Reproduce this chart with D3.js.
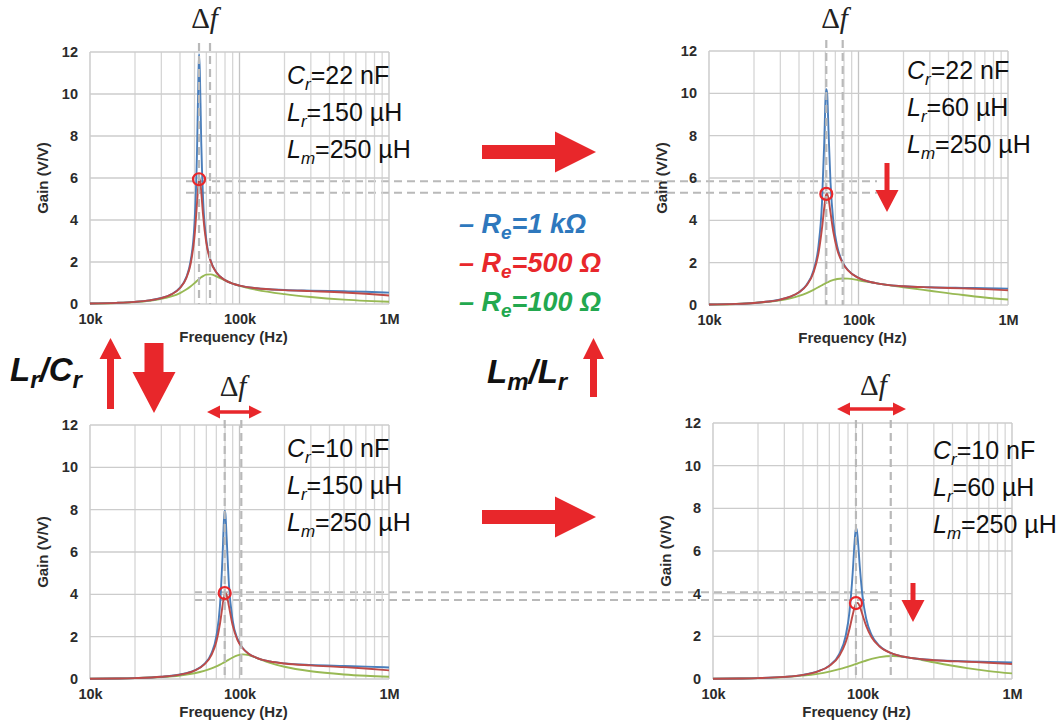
<!DOCTYPE html>
<html>
<head>
<meta charset="utf-8">
<script src="https://cdn.jsdelivr.net/npm/d3@7"></script>
<style>
  body { margin: 0; background: #ffffff; }
  svg { display: block; }
  .tick text { font-family: "Liberation Sans", Arial, sans-serif; font-weight: 700; font-size: 14.5px; fill: #2b2b2b; }
</style>
</head>
<body>
<div id="chart"></div>
<script>
/* ── DATA (gain in V/V, frequency in kHz) ───────────────────── */
const gainTicks = [0, 2, 4, 6, 8, 10, 12];
const freqTicks = [10, 100, 1000];
const freqTickLabels = ["10k", "100k", "1M"];
const legendLabels = ["1 kΩ", "500 Ω", "100 Ω"];

// Cr=22 nF, Lr=150 µH
const freq1  = [10,15,20,25,30,35,40,44,47,50,52,53,53.6,54.3,55.5,57,60,64,70,80,90,100,130,200,300,500,700,1000];
const blue1  = [0.022,0.053,0.101,0.173,0.284,0.462,0.777,1.268,2.012,3.828,7.30,10.51,11.9,11.06,7.654,5.086,3.057,2.090,1.513,1.136,0.970,0.877,0.752,0.670,0.637,0.607,0.582,0.541];
const red1   = [0.022,0.053,0.101,0.173,0.282,0.457,0.763,1.224,1.879,3.214,4.815,5.632,5.917,5.937,5.319,4.274,2.895,2.053,1.505,1.135,0.970,0.877,0.750,0.660,0.612,0.548,0.487,0.407];
const green1 = [0.022,0.051,0.095,0.157,0.243,0.361,0.521,0.687,0.834,0.995,1.103,1.154,1.183,1.218,1.270,1.326,1.397,1.409,1.318,1.120,0.969,0.862,0.673,0.470,0.332,0.207,0.150,0.105];

// Cr=22 nF, Lr=60 µH
const freq2  = [10,15,20,25,30,35,40,45,50,54,57,59,60.2,60.9,61.7,63,65,68,72,78,85,100,130,200,300,500,700,1000];
const blue2  = [0.022,0.052,0.097,0.163,0.258,0.396,0.607,0.958,1.625,2.794,4.843,7.678,9.78,10.2,10.0,8.265,5.773,3.891,2.784,2.053,1.653,1.282,1.034,0.888,0.839,0.810,0.796,0.776];
const red2   = [0.022,0.052,0.097,0.163,0.256,0.392,0.598,0.932,1.532,2.448,3.628,4.603,5.066,5.218,5.252,5.030,4.360,3.418,2.625,2.003,1.635,1.278,1.034,0.887,0.832,0.787,0.751,0.695];
const green2 = [0.022,0.050,0.092,0.148,0.222,0.315,0.429,0.565,0.717,0.843,0.935,0.993,1.025,1.044,1.063,1.094,1.135,1.185,1.230,1.255,1.246,1.172,1.031,0.839,0.673,0.470,0.355,0.257];

// Cr=10 nF, Lr=150 µH
const freq3  = [10,15,20,30,40,50,58,65,70,74,77,78.8,79.6,80.5,82,85,90,97,105,115,130,160,200,300,500,700,1000];
const blue3  = [0.010,0.023,0.042,0.103,0.211,0.405,0.700,1.221,2.021,3.455,5.786,7.60,7.95,7.80,6.695,4.449,2.769,1.894,1.464,1.198,1.000,0.830,0.740,0.664,0.617,0.587,0.543];
const red3   = [0.010,0.023,0.042,0.103,0.209,0.398,0.676,1.138,1.760,2.607,3.454,3.886,4.003,4.058,3.976,3.431,2.534,1.842,1.451,1.196,1.000,0.827,0.733,0.642,0.559,0.493,0.410];
const green3 = [0.010,0.022,0.040,0.092,0.168,0.274,0.383,0.500,0.595,0.678,0.743,0.783,0.801,0.820,0.853,0.918,1.016,1.117,1.162,1.128,1.000,0.764,0.577,0.365,0.215,0.152,0.106];

// Cr=10 nF, Lr=60 µH
const freq4  = [10,15,20,30,40,50,60,70,77,82,86,88.5,89.6,90.4,91.3,93,96,100,106,115,130,160,200,250,300,500,700,1000];
const blue4  = [0.010,0.023,0.041,0.100,0.196,0.354,0.628,1.174,1.994,3.197,4.989,6.410,6.871,7.043,7.041,6.564,5.229,3.887,2.811,2.069,1.551,1.183,1.014,0.927,0.886,0.827,0.805,0.780];
const red4   = [0.010,0.023,0.041,0.099,0.194,0.348,0.607,1.087,1.700,2.372,3.014,3.358,3.466,3.522,3.560,3.564,3.391,3.009,2.477,1.959,1.522,1.180,1.013,0.926,0.882,0.807,0.763,0.701];
const green4 = [0.010,0.022,0.039,0.089,0.157,0.243,0.346,0.460,0.544,0.605,0.653,0.682,0.695,0.704,0.715,0.734,0.767,0.809,0.868,0.942,1.026,1.075,1.013,0.893,0.783,0.507,0.370,0.262];

// dashed markers: [red peak freq, green peak freq] in kHz, and red-peak gain
const marks1 = [53.6, 63.5],  peak1 = 5.94;
const marks2 = [60.9, 78.4],  peak2 = 5.25;
const marks3 = [79.6, 102.8], peak3 = 4.06;
const marks4 = [90.4, 154.5], peak4 = 3.56;

// component values
const params1 = ["22 nF", "150 µH", "250 µH"];
const params2 = ["22 nF", "60 µH",  "250 µH"];
const params3 = ["10 nF", "150 µH", "250 µH"];
const params4 = ["10 nF", "60 µH",  "250 µH"];

/* ── SETUP ──────────────────────────────────────────────────── */
const W = 1060, H = 722;
const SANS = "'Liberation Sans', Arial, sans-serif";
const SERIF = "'Liberation Serif', 'Times New Roman', serif";
const RED = "#e8272b";
const DASH = "#b9b9b9";
const lineColors = { blue: "#4a7ebb", red: "#be4b48", green: "#98b954" };

const svg = d3.select("#chart").append("svg")
  .attr("width", W).attr("height", H)
  .attr("viewBox", `0 0 ${W} ${H}`);

// layout for each small chart
const panels = [
  { x0: 90,  x1: 389,  yTop: 52,  yBot: 304, vTop: 43,  dfY: 28,  px: 287, py: 84,
    f: freq1, blue: blue1, red: red1, green: green1, marks: marks1, peak: peak1, params: params1 },
  { x0: 709, x1: 1008, yTop: 51,  yBot: 305, vTop: 40,  dfY: 28,  px: 907, py: 79,
    f: freq2, blue: blue2, red: red2, green: green2, marks: marks2, peak: peak2, params: params2 },
  { x0: 90,  x1: 389,  yTop: 425, yBot: 679, vTop: 420, dfY: 396, px: 287, py: 457,
    f: freq3, blue: blue3, red: red3, green: green3, marks: marks3, peak: peak3, params: params3 },
  { x0: 713, x1: 1012, yTop: 423, yBot: 679, vTop: 420, dfY: 395, px: 933, py: 459,
    f: freq4, blue: blue4, red: red4, green: green4, marks: marks4, peak: peak4, params: params4 }
];
panels.forEach(p => {
  p.x = d3.scaleLog().domain([10, 1000]).range([p.x0, p.x1]);
  p.y = d3.scaleLinear().domain([0, 12]).range([p.yBot, p.yTop]);
});

/* ── HORIZONTAL GUIDE LINES (drawn under the plots) ─────────── */
const guides = svg.append("g")
  .attr("stroke", DASH).attr("stroke-width", 2).attr("stroke-dasharray", "8,5");
guides.append("line").attr("x1", 186).attr("x2", 877)
  .attr("y1", panels[0].y(5.85)).attr("y2", panels[0].y(5.85));
guides.append("line").attr("x1", 186).attr("x2", 877)
  .attr("y1", panels[1].y(5.3)).attr("y2", panels[1].y(5.3));
guides.append("line").attr("x1", 194).attr("x2", 883)
  .attr("y1", panels[2].y(4.1)).attr("y2", panels[2].y(4.1));
guides.append("line").attr("x1", 194).attr("x2", 883)
  .attr("y1", panels[3].y(3.7)).attr("y2", panels[3].y(3.7));

/* ── PANELS ─────────────────────────────────────────────────── */
panels.forEach(p => {
  const g = svg.append("g");
  const { x, y } = p;

  // grid
  g.append("g").selectAll("line").data(x.ticks()).join("line")
    .attr("x1", d => x(d)).attr("x2", d => x(d))
    .attr("y1", p.yTop).attr("y2", p.yBot)
    .attr("stroke", d => freqTicks.includes(d) ? "#c4c4c4" : "#d6d6d6")
    .attr("stroke-width", 1.3);
  g.append("g").selectAll("line").data(gainTicks).join("line")
    .attr("x1", p.x0).attr("x2", p.x1)
    .attr("y1", d => y(d)).attr("y2", d => y(d))
    .attr("stroke", "#cccccc").attr("stroke-width", 1.3);

  // axes
  g.append("g").attr("transform", `translate(${p.x0},0)`)
    .call(d3.axisLeft(y).tickValues(gainTicks).tickSize(0).tickPadding(12))
    .call(a => a.select(".domain").remove());
  g.append("g").attr("transform", `translate(0,${p.yBot})`)
    .call(d3.axisBottom(x).tickValues(freqTicks).tickSize(0).tickPadding(10)
      .tickFormat((d, i) => freqTickLabels[i]))
    .call(a => a.select(".domain").remove());

  g.append("text")
    .attr("x", (p.x0 + p.x1) / 2 - 6).attr("y", p.yBot + 38)
    .attr("text-anchor", "middle")
    .attr("font-family", SANS).attr("font-weight", 700).attr("font-size", 15)
    .attr("fill", "#2b2b2b").text("Frequency (Hz)");
  g.append("text")
    .attr("transform", `translate(${p.x0 - 42},${(p.yTop + p.yBot) / 2}) rotate(-90)`)
    .attr("text-anchor", "middle")
    .attr("font-family", SANS).attr("font-weight", 700).attr("font-size", 15)
    .attr("fill", "#2b2b2b").text("Gain (V/V)");

  // curves
  const line = d3.line()
    .x(d => x(d[0])).y(d => y(d[1]))
    .curve(d3.curveMonotoneX);
  ["green", "blue", "red"].forEach(k => {
    g.append("path")
      .datum(p.f.map((f, i) => [f, p[k][i]]))
      .attr("fill", "none")
      .attr("stroke", lineColors[k])
      .attr("stroke-width", 1.9)
      .attr("stroke-linejoin", "round")
      .attr("d", line);
  });

  // dashed frequency markers
  g.append("g").selectAll("line").data(p.marks).join("line")
    .attr("x1", d => x(d)).attr("x2", d => x(d))
    .attr("y1", p.vTop).attr("y2", p.yBot)
    .attr("stroke", DASH).attr("stroke-width", 2.2).attr("stroke-dasharray", "8,5");

  // circle on red peak
  g.append("circle")
    .attr("cx", x(p.marks[0])).attr("cy", y(p.peak)).attr("r", 6)
    .attr("fill", "none").attr("stroke", RED).attr("stroke-width", 2.2);

  // Δf label
  const df = g.append("text")
    .attr("x", (x(p.marks[0]) + x(p.marks[1])) / 2).attr("y", p.dfY)
    .attr("text-anchor", "middle")
    .attr("font-family", SERIF).attr("font-size", 29).attr("fill", "#222222");
  df.append("tspan").text("Δ");
  df.append("tspan").attr("font-style", "italic").text("f");

  // component values
  const sym = [["C", "r"], ["L", "r"], ["L", "m"]];
  p.params.forEach((v, i) => {
    const t = g.append("text")
      .attr("x", p.px).attr("y", p.py + i * 37)
      .attr("font-family", SANS).attr("font-size", 25).attr("fill", "#111111");
    t.append("tspan").attr("font-style", "italic").text(sym[i][0]);
    t.append("tspan").attr("font-style", "italic").attr("font-size", 17).attr("dy", 6).text(sym[i][1]);
    t.append("tspan").attr("dy", -6).text("=" + v);
  });
});

/* ── ARROWS ─────────────────────────────────────────────────── */
// vertical arrow: cx, tail y, tip y, shaft width, head width, head length
function vArrow(cx, y0, y1, sw, hw, hl) {
  const s = Math.sign(y1 - y0), yb = y1 - s * hl;
  const pts = [[cx - sw / 2, y0], [cx + sw / 2, y0], [cx + sw / 2, yb], [cx + hw / 2, yb],
               [cx, y1], [cx - hw / 2, yb], [cx - sw / 2, yb]];
  svg.append("polygon").attr("points", pts.join(" ")).attr("fill", RED);
}
function hArrow(cy, x0, x1, sw, hw, hl) {
  const xb = x1 - hl;
  const pts = [[x0, cy - sw / 2], [xb, cy - sw / 2], [xb, cy - hw / 2], [x1, cy],
               [xb, cy + hw / 2], [xb, cy + sw / 2], [x0, cy + sw / 2]];
  svg.append("polygon").attr("points", pts.join(" ")).attr("fill", RED);
}
function dArrow(cy, x0, x1, sw, hw, hl) {
  const pts = [[x0, cy], [x0 + hl, cy - hw / 2], [x0 + hl, cy - sw / 2], [x1 - hl, cy - sw / 2],
               [x1 - hl, cy - hw / 2], [x1, cy], [x1 - hl, cy + hw / 2], [x1 - hl, cy + sw / 2],
               [x0 + hl, cy + sw / 2], [x0 + hl, cy + hw / 2]];
  svg.append("polygon").attr("points", pts.join(" ")).attr("fill", RED);
}

hArrow(152, 482, 596, 14, 41, 41);
hArrow(517, 482, 596, 14, 41, 41);
vArrow(110.5, 409, 338, 7, 22, 21);
vArrow(154, 343, 413, 19, 43, 41);
vArrow(593.5, 397, 338, 7, 21, 21);
vArrow(887, 163, 212, 5, 23, 22);
vArrow(913, 583, 622, 5, 23, 22);
dArrow(412, 207, 262, 3.5, 13, 13);
dArrow(409, 837, 906, 3.5, 13, 13);

/* ── LEFT / MIDDLE LABELS ───────────────────────────────────── */
function ratioLabel(x, y, parts) {
  const t = svg.append("text").attr("x", x).attr("y", y)
    .attr("font-family", SANS).attr("font-size", 33).attr("font-weight", 700)
    .attr("font-style", "italic").attr("fill", "#111111");
  parts.forEach(([txt, sub], i) => {
    const prevSub = i > 0 && parts[i - 1][1];
    t.append("tspan")
      .attr("dy", sub ? 7 : (prevSub ? -7 : 0))
      .attr("font-size", sub ? 24 : 33).text(txt);
  });
}
ratioLabel(10, 381, [["L", 0], ["r", 1], ["/C", 0], ["r", 1]]);
ratioLabel(487, 383, [["L", 0], ["m", 1], ["/L", 0], ["r", 1]]);

/* ── LEGEND ─────────────────────────────────────────────────── */
const legendColors = ["#2e78bd", "#e8272b", "#23a84f"];
legendLabels.forEach((lab, i) => {
  const t = svg.append("text").attr("x", 459).attr("y", 233 + i * 39)
    .attr("font-family", SANS).attr("font-size", 27).attr("font-weight", 700)
    .attr("font-style", "italic").attr("fill", legendColors[i]);
  t.append("tspan").text("– R");
  t.append("tspan").attr("font-size", 19).attr("dy", 6).text("e");
  t.append("tspan").attr("dy", -6).text("=" + lab);
});
</script>
</body>
</html>
